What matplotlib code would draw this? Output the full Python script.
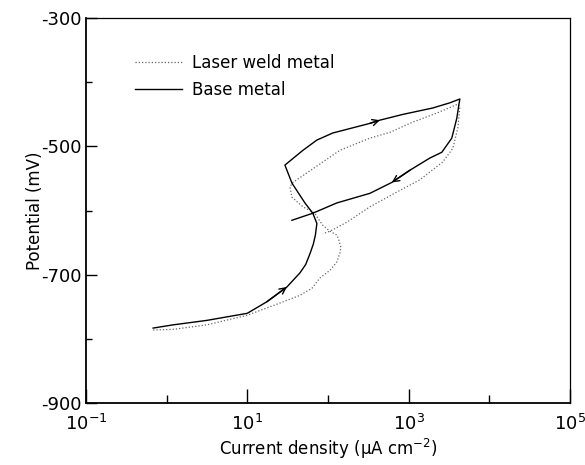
import matplotlib.pyplot as plt
from matplotlib.ticker import NullFormatter

# base metal: forward scan up to the vertex, then reverse scan
base_i = [0.68, 1.2, 3.16, 10, 17.5, 31, 45, 53, 60, 66, 70, 73, 65, 51.9, 35.8, 29.3,
          49, 73, 115, 332, 441, 851, 2000, 3250, 4330,
          4200, 3970, 3440, 2590, 1840, 1040, 621, 332, 129, 65, 35.8]
base_e = [-783, -778, -771, -760, -742, -719, -697, -684, -667, -652, -638, -620, -604, -588, -557, -529,
          -506, -490, -479, -464, -459, -450, -440, -432, -426,
          -436, -456, -487, -509, -518, -537, -556, -573, -588, -604, -615]

# laser weld metal
laser_i = [0.68, 1.2, 3.16, 10, 25.4, 45, 63.4, 79.6, 106, 129, 141, 145, 137, 129, 106, 86.7, 75.2,
           69, 49, 35.8, 33.8, 36.8,
           141, 332, 587, 1130, 2240, 4090,
           4330, 4090, 3540, 2660, 1380, 716, 332, 172, 106, 86.7]
laser_e = [-786, -785, -778, -763, -744, -732, -721, -705, -693, -680, -666, -657, -646, -638, -632, -623, -612,
           -604, -594, -579, -563, -556,
           -506, -487, -478, -462, -448, -434,
           -439, -471, -503, -524, -552, -571, -594, -618, -632, -636]

# arrows drawn on the base metal curve: (from index, to index)
arrows = [(4, 5), (19, 20), (30, 31)]

fig, ax = plt.subplots(figsize=(5.85, 4.65), dpi=100)
fig.subplots_adjust(left=0.147, right=0.974, top=0.961, bottom=0.133)

ax.plot(laser_i, laser_e, color='0.4', lw=0.9, linestyle=(0, (1, 1.6)), label='Laser weld metal')
ax.plot(base_i, base_e, color='black', lw=1.0, label='Base metal')

for a, b in arrows:
    ax.annotate('', xy=(base_i[b], base_e[b]), xytext=(base_i[a], base_e[a]),
                arrowprops=dict(arrowstyle='->', color='black', lw=1.0,
                                shrinkA=0, shrinkB=0, mutation_scale=11))

ax.set_xscale('log')
ax.set_xlim(0.1, 1e5)
ax.set_ylim(-900, -300)
ax.set_xticks([1e-1, 1e1, 1e3, 1e5])
ax.set_xticks([1e0, 1e2, 1e4], minor=True)
ax.xaxis.set_minor_formatter(NullFormatter())
ax.set_yticks([-900, -700, -500, -300])
ax.set_yticks([-800, -600, -400], minor=True)
ax.set_yticklabels(['-900', '-700', '-500', '-300'])

ax.tick_params(which='both', direction='in', top=False, right=False, labelsize=13, width=1.0)
ax.tick_params(axis='x', which='major', length=10, pad=8)
ax.tick_params(axis='x', which='minor', length=6)
ax.tick_params(axis='y', which='major', length=8, pad=3)
ax.tick_params(axis='y', which='minor', length=4)

ax.spines['left'].set_linewidth(1.3)
ax.spines['bottom'].set_linewidth(1.3)
ax.spines['top'].set_linewidth(0.9)
ax.spines['right'].set_linewidth(0.9)

ax.set_xlabel(r'Current density ($\mathregular{\mu}$A cm$^{-2}$)', fontsize=12, labelpad=2)
ax.set_ylabel('Potential (mV)', fontsize=12, labelpad=-2)

ax.legend(loc='upper left', bbox_to_anchor=(0.07, 0.945), frameon=False, fontsize=12,
          handlelength=2.8, handletextpad=0.6, labelspacing=0.5)

plt.savefig('out.png', dpi=100)
